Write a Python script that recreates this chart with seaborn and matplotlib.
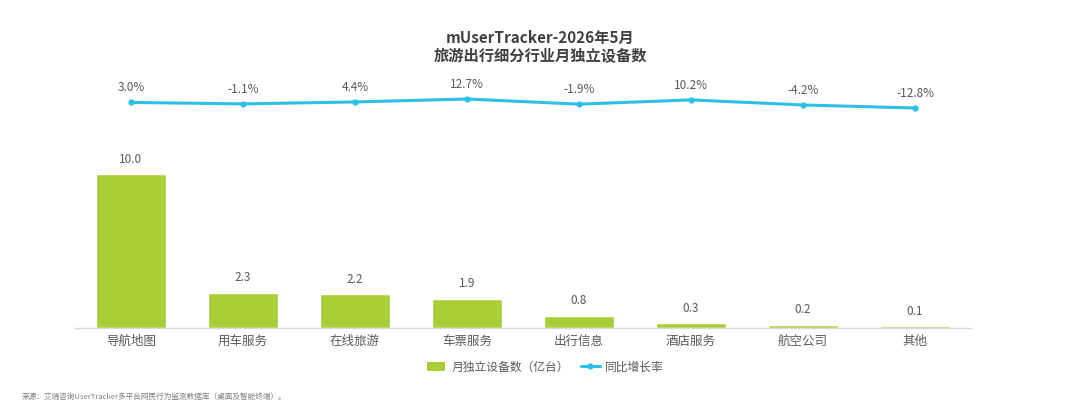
import numpy as np
import pandas as pd
import matplotlib.pyplot as plt
import seaborn as sns
from matplotlib.patches import Patch
from matplotlib.lines import Line2D

categories = ['导航地图', '用车服务', '在线旅游', '车票服务', '出行信息', '酒店服务', '航空公司', '其他']
devices = [10.0, 2.3, 2.2, 1.9, 0.8, 0.3, 0.2, 0.1]
growth = [3.0, -1.1, 4.4, 12.7, -1.9, 10.2, -4.2, -12.8]

BAR_COLOR = '#AACF36'
LINE_COLOR = '#2EBFE6'
TEXT_COLOR = '#595959'

sns.set_style('white')
plt.rcParams['font.family'] = ['Noto Sans CJK SC', 'DejaVu Sans']

W, H = 1080, 404
fig = plt.figure(figsize=(W / 100, H / 100), dpi=100)

left, right = 75 / W, 971 / W
# bar axes
ax = fig.add_axes([left, 1 - 328 / H, right - left, (328 - 140) / H])
df = pd.DataFrame({'cat': categories, 'val': devices})
sns.barplot(data=df, x='cat', y='val', color=BAR_COLOR, width=0.625, ax=ax, saturation=1)
ax.set_xlim(-0.5, len(categories) - 0.5)
ax.set_ylim(0, 10 * 188 / 154)
for i, v in enumerate(devices):
    ax.text(i, v + 0.55, f'{v:.1f}', ha='center', va='bottom', fontsize=8.5, color=TEXT_COLOR)
ax.set_xlabel('')
ax.set_ylabel('')
ax.set_yticks([])
ax.tick_params(axis='x', length=0, labelsize=9, labelcolor=TEXT_COLOR, pad=5)
for s in ['top', 'right', 'left']:
    ax.spines[s].set_visible(False)
ax.spines['bottom'].set_color('#D9D9D9')
ax.spines['bottom'].set_linewidth(1)

# line axes
lax = fig.add_axes([left, 1 - 130 / H, right - left, 50 / H])
sns.lineplot(x=np.arange(len(categories)), y=growth, color=LINE_COLOR, linewidth=2.2,
             marker='o', markersize=4.5, markeredgewidth=0, ax=lax)
lax.set_xlim(-0.5, len(categories) - 0.5)
lax.set_ylim(-75, 66.5)
for i, g in enumerate(growth):
    lax.annotate(f'{g:.1f}%', (i, g), xytext=(0, 6), textcoords='offset points',
                 ha='center', va='bottom', fontsize=8.5, color=TEXT_COLOR)
lax.axis('off')

fig.text(0.5, 1 - 38 / H, 'mUserTracker-2026年5月', ha='center', va='center',
         fontsize=11, fontweight='bold', color='#404040')
fig.text(0.5, 1 - 56 / H, '旅游出行细分行业月独立设备数', ha='center', va='center',
         fontsize=11, fontweight='bold', color='#404040')

handles = [Patch(facecolor=BAR_COLOR, edgecolor='none'),
           Line2D([0], [0], color=LINE_COLOR, linewidth=2.2, marker='o', markersize=4.5, markeredgewidth=0)]
fig.legend(handles, ['月独立设备数（亿台）', '同比增长率'], loc='center',
           bbox_to_anchor=(0.505, 1 - 367 / H), ncol=2, frameon=False, fontsize=8.5,
           labelcolor=TEXT_COLOR, handlelength=1.6, handleheight=0.9, columnspacing=1.0, handletextpad=0.5)

fig.text(22 / W, 1 - 397 / H, '来源：艾瑞咨询UserTracker多平台网民行为监测数据库（桌面及智能终端）。',
         ha='left', va='center', fontsize=5.5, color='#7F7F7F')

fig.savefig('out.png', dpi=100, facecolor='white')
